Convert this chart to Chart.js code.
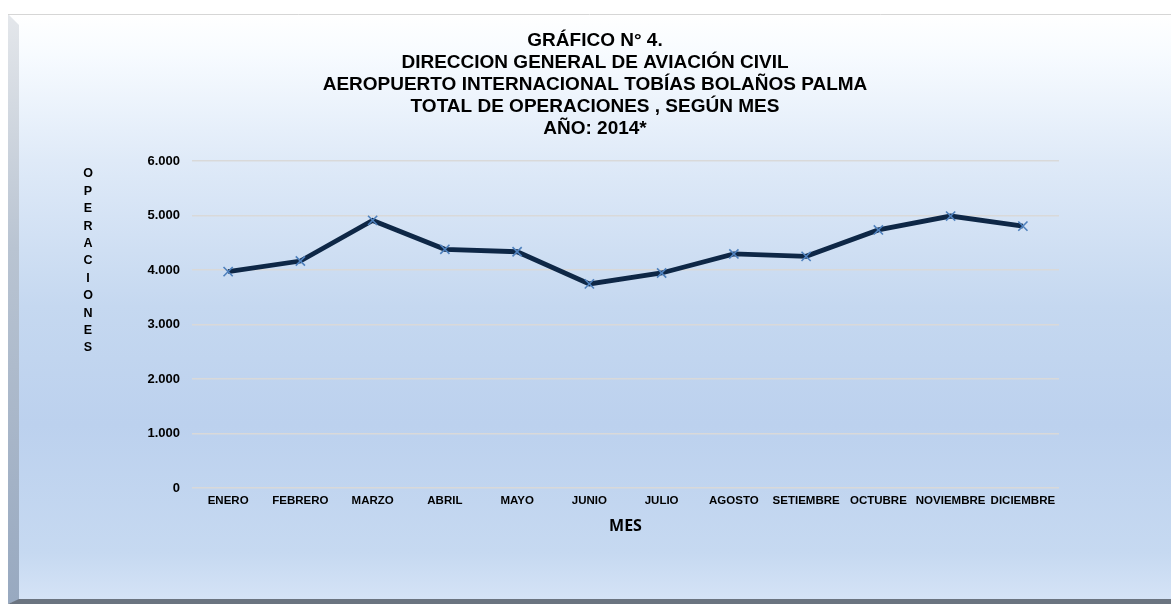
<!DOCTYPE html>
<html>
<head>
<meta charset="utf-8">
<script src="https://cdn.jsdelivr.net/npm/chart.js@4/dist/chart.umd.min.js"></script>
<style>
  html, body { margin: 0; padding: 0; background: #ffffff; }
  #wrap { position: relative; width: 1171px; height: 604px; }
</style>
</head>
<body>
<div id="wrap"><canvas id="operChart" width="1171" height="604"></canvas></div>
<script>
// data
const meses = ['ENERO', 'FEBRERO', 'MARZO', 'ABRIL', 'MAYO', 'JUNIO', 'JULIO',
    'AGOSTO', 'SETIEMBRE', 'OCTUBRE', 'NOVIEMBRE', 'DICIEMBRE'];
const operaciones = [3970, 4165, 4910, 4380, 4335, 3745, 3945, 4295, 4250, 4735, 4990, 4805];
const yTicks = [0, 1000, 2000, 3000, 4000, 5000, 6000];
const titulo = [
    'GRÁFICO N° 4.',
    'DIRECCION GENERAL DE AVIACIÓN CIVIL',
    'AEROPUERTO INTERNACIONAL TOBÍAS BOLAÑOS PALMA',
    'TOTAL DE OPERACIONES , SEGÚN MES',
    'AÑO: 2014*',
];
const yTitulo = 'OPERACIONES';

const fontFam = '"Liberation Sans", Arial, sans-serif';

// panel background: white -> light blue gradient, grey bevel on the left, dark strip at bottom
const panelBg = {
    id: 'panelBg',
    beforeDraw(chart) {
        const ctx = chart.ctx;
        const w = chart.width, h = chart.height;
        ctx.save();
        ctx.fillStyle = '#ffffff';
        ctx.fillRect(0, 0, w, h);

        const g = ctx.createLinearGradient(0, 14, 0, 600);
        g.addColorStop(0, '#ffffff');
        g.addColorStop(0.07, '#f7fbff');
        g.addColorStop(0.25, '#dfeaf8');
        g.addColorStop(0.5, '#c5d8f0');
        g.addColorStop(0.7, '#bcd1ee');
        g.addColorStop(0.92, '#c6d9f1');
        g.addColorStop(1, '#d5e3f6');
        ctx.fillStyle = g;
        ctx.fillRect(8, 14, w - 8, 586);

        // left bevel
        const b = ctx.createLinearGradient(0, 14, 0, 600);
        b.addColorStop(0, '#e4e7eb');
        b.addColorStop(0.4, '#b9c4d2');
        b.addColorStop(1, '#98a9c0');
        ctx.fillStyle = b;
        ctx.beginPath();
        ctx.moveTo(8, 14);
        ctx.lineTo(19, 25);
        ctx.lineTo(19, 600);
        ctx.lineTo(8, 604);
        ctx.closePath();
        ctx.fill();

        // bottom strip
        ctx.fillStyle = '#6b7480';
        ctx.beginPath();
        ctx.moveTo(8, 604);
        ctx.lineTo(19, 599);
        ctx.lineTo(w, 599);
        ctx.lineTo(w, 604);
        ctx.closePath();
        ctx.fill();

        // top border
        ctx.strokeStyle = '#d6d6d6';
        ctx.lineWidth = 1;
        ctx.beginPath();
        ctx.moveTo(8, 14.5);
        ctx.lineTo(w, 14.5);
        ctx.stroke();
        ctx.restore();
    }
};

// vertical stacked letters for the y axis title
const letrasY = {
    id: 'letrasY',
    afterDraw(chart) {
        const ctx = chart.ctx;
        ctx.save();
        ctx.fillStyle = '#000000';
        ctx.font = 'bold 12.5px ' + fontFam;
        ctx.textAlign = 'center';
        ctx.textBaseline = 'middle';
        const x = 88, y0 = 174, step = 17.4;
        for (let i = 0; i < yTitulo.length; i++) {
            ctx.fillText(yTitulo[i], x, y0 + i * step);
        }
        ctx.restore();
    }
};

const ctx = document.getElementById('operChart');

new Chart(ctx, {
    type: 'line',
    data: {
        labels: meses,
        datasets: [{
            data: operaciones,
            borderColor: '#0e2746',
            borderWidth: 4.8,
            tension: 0,
            fill: false,
            pointStyle: 'crossRot',
            pointRadius: 6.5,
            pointBorderWidth: 1.6,
            pointBorderColor: '#4f81bd',
            pointBackgroundColor: '#4f81bd',
        }],
    },
    options: {
        responsive: false,
        animation: false,
        layout: {
            padding: { left: 131, right: 112, top: 22, bottom: 66 },
        },
        plugins: {
            legend: { display: false },
            tooltip: { enabled: false },
            title: {
                display: true,
                text: titulo,
                color: '#000000',
                font: { family: fontFam, size: 19, weight: 'bold', lineHeight: 22 / 19 },
                padding: { top: 8, bottom: 21 },
            },
        },
        scales: {
            x: {
                offset: true,
                grid: { display: false, drawTicks: false },
                border: { display: false },
                ticks: {
                    color: '#000000',
                    font: { family: fontFam, size: 11.5, weight: 'bold' },
                    padding: 6,
                    autoSkip: false,
                    maxRotation: 0,
                },
                title: {
                    display: true,
                    text: 'MES',
                    color: '#000000',
                    font: { family: '"Open Sans", ' + fontFam, size: 16, weight: 'bold' },
                    padding: { top: 2, bottom: 2 },
                },
                afterFit(scale) { scale.height = 50; },
            },
            y: {
                min: 0,
                max: 6000,
                afterBuildTicks(scale) { scale.ticks = yTicks.map(v => ({ value: v })); },
                grid: { color: '#d9d9d9', lineWidth: 1.6, drawTicks: false },
                border: { display: false },
                ticks: {
                    color: '#000000',
                    font: { family: fontFam, size: 13, weight: 'bold' },
                    padding: 12,
                    callback: v => v.toLocaleString('de-DE'),
                },
                afterFit(scale) { scale.width = 61; },
            },
        },
    },
    plugins: [panelBg, letrasY],
});
</script>
</body>
</html>
